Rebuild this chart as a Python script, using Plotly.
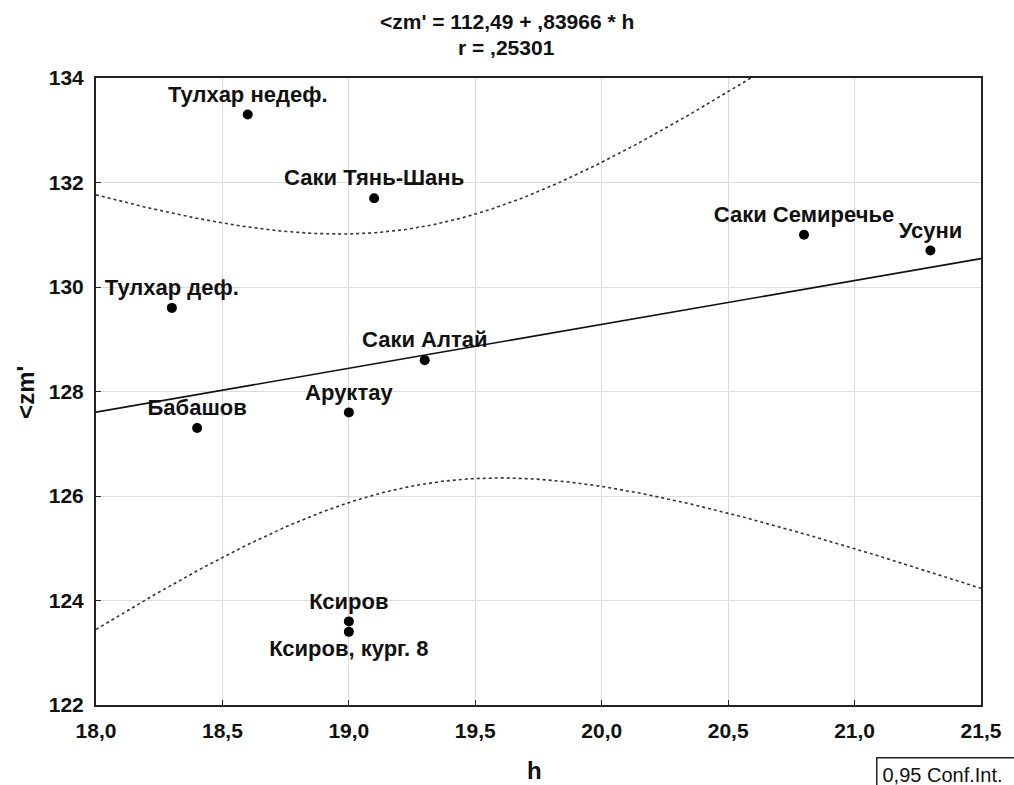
import numpy as np
import plotly.graph_objects as go

# Data
names = ["Тулхар недеф.", "Тулхар деф.", "Саки Тянь-Шань", "Саки Семиречье", "Усуни",
         "Саки Алтай", "Аруктау", "Бабашов", "Ксиров", "Ксиров, кург. 8"]
h_vals = [18.6, 18.3, 19.1, 20.8, 21.3, 19.3, 19.0, 18.4, 19.0, 19.0]
zm_vals = [133.3, 129.6, 131.7, 131.0, 130.7, 128.6, 127.6, 127.3, 123.6, 123.4]
label_pos = ["top center"] * 9 + ["bottom center"]

x_ticks = [18.0, 18.5, 19.0, 19.5, 20.0, 20.5, 21.0, 21.5]
x_tick_text = ["18,0", "18,5", "19,0", "19,5", "20,0", "20,5", "21,0", "21,5"]
y_ticks = [122, 124, 126, 128, 130, 132, 134]

title_lines = ["<zm' = 112,49 + ,83966 * h", "r = ,25301"]

# Linear regression and 95% confidence band from the data
x = np.array(h_vals)
y = np.array(zm_vals)
n = len(x)
xm, ym = x.mean(), y.mean()
sxx = ((x - xm) ** 2).sum()
sxy = ((x - xm) * (y - ym)).sum()
b = sxy / sxx
a = ym - b * xm
resid = y - (a + b * x)
s = np.sqrt((resid ** 2).sum() / (n - 2))
t_crit = 2.306  # t(0.975, df=8)

xs = np.linspace(18.0, 21.5, 300)
fit = a + b * xs
hw = t_crit * s * np.sqrt(1.0 / n + (xs - xm) ** 2 / sxx)
upper = fit + hw
lower = fit - hw

FONT = "Liberation Sans"
W, H = 1014, 785
L, T, R, B = 96, 78, 22, 80
PW, PH = W - L - R, H - T - B


def px_x(p):
    return (p - L) / PW


def px_y(p):
    return (H - B - p) / PH


fig = go.Figure()
fig.add_trace(go.Scatter(x=xs, y=upper, mode="lines",
                         line=dict(color="#333333", width=1.6, dash="dot"),
                         hoverinfo="skip", showlegend=False))
fig.add_trace(go.Scatter(x=xs, y=lower, mode="lines",
                         line=dict(color="#333333", width=1.6, dash="dot"),
                         hoverinfo="skip", showlegend=False))
fig.add_trace(go.Scatter(x=xs, y=fit, mode="lines",
                         line=dict(color="#111111", width=1.6),
                         hoverinfo="skip", showlegend=False))
fig.add_trace(go.Scatter(x=h_vals, y=zm_vals, mode="markers+text",
                         text=names, textposition=label_pos,
                         textfont=dict(family=FONT, size=22, color="#111111", weight="bold"),
                         marker=dict(color="black", size=10),
                         showlegend=False))

fig.update_layout(
    width=W, height=H,
    margin=dict(l=L, r=R, t=T, b=B),
    paper_bgcolor="white", plot_bgcolor="white",
    font=dict(family=FONT, color="#111111"),
)
fig.update_xaxes(range=[18.0, 21.5], tickvals=x_ticks, ticktext=x_tick_text,
                 showgrid=True, gridcolor="#dcdcdc", gridwidth=1,
                 showline=True, linecolor="#222222", linewidth=2, mirror=True,
                 ticks="inside", ticklen=5, tickcolor="#222222",
                 ticklabelstandoff=6,
                 tickfont=dict(family=FONT, size=21, color="#111111", weight="bold"),
                 zeroline=False)
fig.update_yaxes(range=[122, 134], tickvals=y_ticks,
                 showgrid=True, gridcolor="#dcdcdc", gridwidth=1,
                 showline=True, linecolor="#222222", linewidth=2, mirror=True,
                 ticks="inside", ticklen=5, tickcolor="#222222",
                 ticklabelstandoff=6,
                 tickfont=dict(family=FONT, size=21, color="#111111", weight="bold"),
                 zeroline=False)

# Title (two lines)
fig.add_annotation(text="<b>" + title_lines[0].replace("<", "&lt;") + "</b>",
                   xref="paper", yref="paper", x=px_x(512), y=px_y(22),
                   xanchor="center", yanchor="middle", showarrow=False,
                   font=dict(family=FONT, size=21, color="#111111"))
fig.add_annotation(text="<b>" + title_lines[1] + "</b>",
                   xref="paper", yref="paper", x=px_x(512), y=px_y(48),
                   xanchor="center", yanchor="middle", showarrow=False,
                   font=dict(family=FONT, size=21, color="#111111"))
# Axis titles
fig.add_annotation(text="<b>h</b>", xref="paper", yref="paper",
                   x=px_x(540), y=px_y(771), xanchor="center", yanchor="middle",
                   showarrow=False, font=dict(family=FONT, size=24, color="#111111"))
fig.add_annotation(text="<b>&lt;zm'</b>", xref="paper", yref="paper",
                   x=px_x(24), y=px_y(392), xanchor="center", yanchor="middle",
                   textangle=-90, showarrow=False,
                   font=dict(family=FONT, size=24, color="#111111"))
# Legend box
fig.add_annotation(text="0,95 Conf.Int.", xref="paper", yref="paper",
                   x=px_x(886), y=px_y(757), xanchor="left", yanchor="top",
                   showarrow=False, align="left",
                   font=dict(family=FONT, size=20, color="#111111"),
                   bordercolor="#222222", borderwidth=1.5, borderpad=5,
                   width=160, bgcolor="white")

fig.write_html("out.html", config={"displayModeBar": False},
               post_script="document.body.style.margin='0';document.body.style.overflow='hidden';")
